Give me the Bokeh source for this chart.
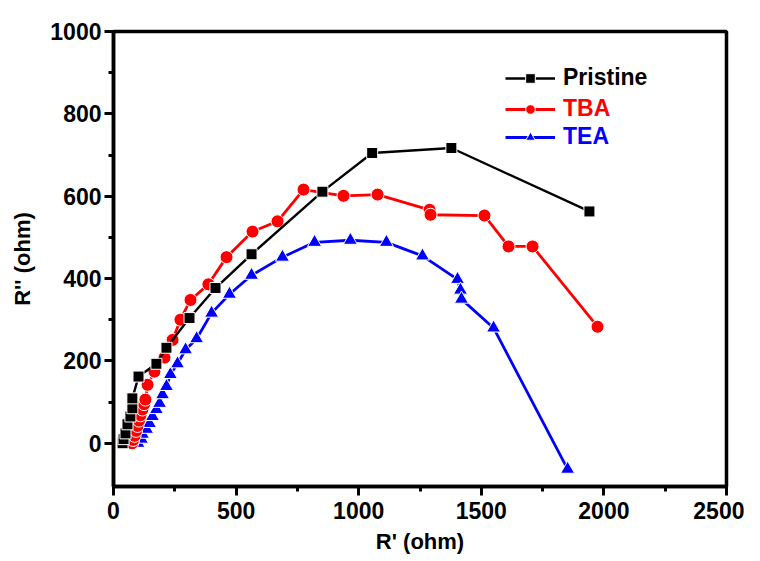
from bokeh.plotting import figure
from bokeh.models import Range1d, Legend, LegendItem, FixedTicker
from bokeh.embed import file_html
from bokeh.resources import INLINE

# Data (R' in ohm, R'' in ohm)
pristine_x = [37, 41, 49, 57, 69, 77, 77, 102, 175, 216, 310, 416, 563, 852, 1055, 1378, 1941]
pristine_y = [0, 10, 24, 46, 65, 85, 109, 162, 193, 232, 304, 377, 459, 611, 705, 717, 563]

tba_x = [76, 80, 86, 92, 98, 104, 110, 118, 125, 130, 139, 167, 208, 241, 273, 314, 387, 461,
         567, 669, 775, 938, 1077, 1289, 1293, 1513, 1611, 1709, 1974]
tba_y = [0, 8, 18, 30, 42, 55, 68, 82, 95, 106, 142, 174, 208, 251, 300, 348, 386, 452,
         514, 539, 616, 601, 604, 567, 555, 553, 478, 478, 283]

tea_x = [100, 114, 118, 135, 147, 159, 175, 188, 200, 216, 232, 261, 294, 339, 400, 473, 563,
         689, 820, 966, 1113, 1260, 1403, 1415, 1419, 1550, 1852]
tea_y = [0, 10, 22, 34, 48, 65, 82, 97, 118, 138, 167, 193, 227, 254, 316, 362, 408,
         452, 488, 493, 488, 455, 398, 372, 350, 280, -63]

x_ticks = [0, 500, 1000, 1500, 2000, 2500]
x_minor = [250, 750, 1250, 1750, 2250]
y_ticks = [0, 200, 400, 600, 800, 1000]
y_minor = [100, 300, 500, 700, 900]

FONT = "Liberation Sans"

p = figure(width=744, height=556, output_backend="svg", toolbar_location=None,
           x_range=Range1d(0, 2500), y_range=Range1d(-105, 1000),
           min_border_left=113, min_border_right=18, min_border_top=31, min_border_bottom=69)
p.grid.visible = False
p.outline_line_color = "black"
p.outline_line_width = 3.5
p.background_fill_color = "white"

for ax in (p.xaxis[0], p.yaxis[0]):
    ax.axis_line_width = 3.5
    ax.axis_line_color = "black"
    ax.major_tick_line_width = 3
    ax.minor_tick_line_width = 3
    ax.major_tick_line_color = "black"
    ax.minor_tick_line_color = "black"
    ax.major_tick_in = 0
    ax.minor_tick_in = 0
    ax.major_tick_out = 9
    ax.minor_tick_out = 5
    ax.major_label_text_font = FONT
    ax.major_label_text_font_style = "bold"
    ax.major_label_text_font_size = "23px"
    ax.major_label_text_color = "black"
    ax.axis_label_text_font = FONT
    ax.axis_label_text_font_style = "bold"
    ax.axis_label_text_font_size = "22px"
    ax.axis_label_text_color = "black"

p.xaxis.ticker = FixedTicker(ticks=x_ticks, minor_ticks=x_minor)
p.yaxis.ticker = FixedTicker(ticks=y_ticks, minor_ticks=y_minor)
p.xaxis.axis_label = "R' (ohm)"
p.yaxis.axis_label = "R'' (ohm)"
p.xaxis.major_label_standoff = 6
p.yaxis.major_label_standoff = 3
p.xaxis.axis_label_standoff = 7
p.yaxis.axis_label_standoff = 12

series = [
    ("Pristine", pristine_x, pristine_y, "black", "square", 11, 2.4),
    ("TBA", tba_x, tba_y, "#ff0000", "circle", 13, 2.8),
    ("TEA", tea_x, tea_y, "#0000ff", "triangle", 14, 2.8),
]
legend_y = [395, 364, 336]

renderers = {}
# draw TEA first, Pristine last (on top)
for (name, xs, ys, col, mk, sz, lw) in reversed(series):
    ln = p.line(xs, ys, line_color=col, line_width=lw)
    sc = p.scatter(xs, ys, marker=mk, size=sz, fill_color=col, line_color="white", line_width=1.0)
    renderers[name] = [ln, sc]

for (name, xs, ys, col, mk, sz, lw), ly in zip(series, legend_y):
    leg = Legend(items=[LegendItem(label=name, renderers=renderers[name])],
                 location=(392, ly), orientation="vertical",
                 glyph_width=50, glyph_height=24, label_standoff=8,
                 label_text_font=FONT, label_text_font_style="bold",
                 label_text_font_size="23px", label_text_color=col,
                 padding=0, margin=0, spacing=0,
                 border_line_alpha=0, background_fill_alpha=0)
    p.add_layout(leg, "center")

open("out.html", "w").write(file_html(p, INLINE))
